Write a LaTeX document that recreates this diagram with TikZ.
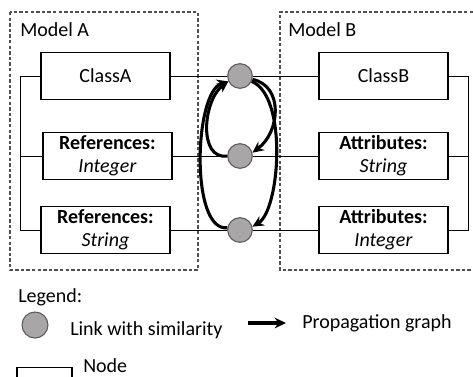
\documentclass[tikz,border=0pt]{standalone}
\usepackage{fontspec}
\setmainfont{Carlito}
\usetikzlibrary{arrows.meta}
\definecolor{linkgray}{HTML}{A8A6A6}
\definecolor{linkedge}{HTML}{5A5A5A}
\definecolor{dashgray}{HTML}{505050}
\tikzset{
  modelbox/.style={draw=dashgray, line width=0.8pt, dash pattern=on 2.6pt off 1.6pt},
  elembox/.style={draw, line width=0.8pt, minimum width=96.75pt, minimum height=35.25pt,
    inner sep=0pt, align=center, font=\fontsize{15}{17.5}\selectfont},
  link/.style={circle, draw=linkedge, fill=linkgray, line width=0.8pt, minimum size=18.5pt, inner sep=0pt},
  wire/.style={line width=0.75pt},
  prop/.style={line width=2.3pt, -{Stealth[length=8.5pt, width=8pt]}},
  txt/.style={font=\fontsize{15}{17.5}\selectfont, inner sep=0pt, anchor=base west},
}
\begin{document}
\begin{tikzpicture}[x=0.75pt, y=-0.75pt]
  \useasboundingbox (0,0) rectangle (473,376);

  % model containers
  \draw[modelbox] (10,12) rectangle (198,270);
  \draw[modelbox] (473,12) -- (280,12) -- (280,270) -- (473,270);
  \node[txt] (tA) at (20,36) {Model A};
  \node[txt] (tB) at (288,36) {Model B};

  % elements of model A
  \node[elembox] (A1) at (105.5,76) {ClassA};
  \node[elembox] (A2) at (107.5,156) {\textbf{References:}\\\textit{Integer}};
  \node[elembox] (A3) at (105.5,230) {\textbf{References:}\\\textit{String}};

  % elements of model B
  \node[elembox] (B1) at (383.5,76) {ClassB};
  \node[elembox] (B2) at (383.5,156) {\textbf{Attributes:}\\\textit{String}};
  \node[elembox] (B3) at (383.5,230) {\textbf{Attributes:}\\\textit{Integer}};

  % containment brackets
  \coordinate (la1) at (20,76);
  \coordinate (la2) at (20,156);
  \coordinate (lb1) at (468,76);
  \coordinate (lb2) at (468,156);
  \draw[wire] (A1.west) -- (la1) |- (A3.west);
  \draw[wire] (A2.west) -- (la2);
  \draw[wire] (B1.east) -- (lb1) |- (B3.east);
  \draw[wire] (B2.east) -- (lb2);

  % similarity links
  \node[link] (L1) at (240,76) {};
  \node[link] (L2) at (240,156) {};
  \node[link] (L3) at (240,230) {};
  \draw[wire] (A1.east) -- (L1.west);
  \draw[wire] (L1.east) -- (B1.west);
  \draw[wire] (A2.east) -- (L2.west);
  \draw[wire] (L2.east) -- (B2.west);
  \draw[wire] (A3.east) -- (L3.west);
  \draw[wire] (L3.east) -- (B3.west);

  % propagation graph
  \draw[prop] (L2.180) .. controls (198,160) and (203,100) .. (L1.205);
  \draw[prop] (L3.170) .. controls (190,232) and (194,92) .. (L1.205);
  \draw[prop] (L1.-15) .. controls (284,86) and (280,132) .. (L2.15);
  \draw[prop] (L1.-25) .. controls (288,96) and (280,210) .. (L3.15);

  % legend
  \node[txt] (leg) at (18,302) {Legend:};
  \node[link, minimum size=19.5pt] (lc) at (35,325) {};
  \node[txt] (lct) at (70,335) {Link with similarity};
  \coordinate (pa) at (248,323);
  \coordinate (pb) at (286,323);
  \draw[prop] (pa) -- (pb);
  \node[txt] (pgt) at (302,328) {Propagation graph};
  \draw[line width=0.8pt] (17,382) rectangle (72,367.5);
  \node[txt] (nt) at (83,372.5) {Node};
\end{tikzpicture}
\end{document}
